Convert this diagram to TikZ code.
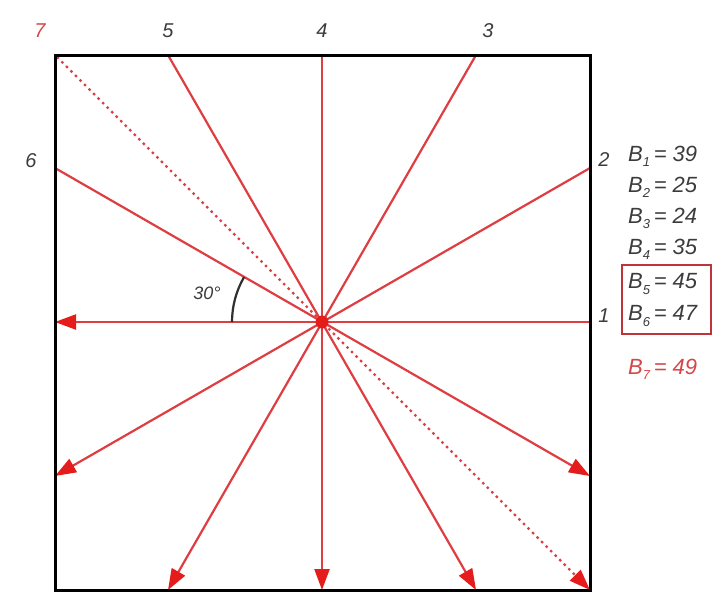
\documentclass[tikz,border=0pt]{standalone}
\usepackage{fontspec}
\setmainfont{Liberation Sans}
\usetikzlibrary{arrows.meta}
\definecolor{ray}{RGB}{222,62,66}
\definecolor{tip}{RGB}{228,28,28}
\definecolor{lbl}{RGB}{60,60,60}
\definecolor{redlbl}{RGB}{214,70,70}
\newcommand{\Bval}[2]{\textit{B}\raisebox{-0.45ex}{\fontsize{13}{14}\selectfont\itshape #1}\,\textit{= #2}}
\begin{document}
\begin{tikzpicture}[x=1pt,y=-1pt,
  raypath/.style={draw=ray,line width=2.2pt},
  arrowed/.style={raypath,-{Triangle[length=21pt,width=15pt,fill=tip,color=tip]}},
  num/.style={font=\fontsize{20}{23}\selectfont\itshape,text=lbl,inner sep=0pt},
  bl/.style={font=\fontsize{22}{25}\selectfont,text=lbl,inner sep=0pt,anchor=west}]
\useasboundingbox (0,0) rectangle (712,595);
\fill[white] (0,0) rectangle (712,595);
% corners / endpoints
\coordinate (c) at (322,322);
\coordinate (e1) at (590,322);  \coordinate (a1) at (55,322);
\coordinate (e2) at (590,168);  \coordinate (a2) at (55,476);
\coordinate (e3) at (476,55);   \coordinate (a3) at (168,590);
\coordinate (e4) at (322,55);   \coordinate (a4) at (322,590);
\coordinate (e5) at (168,55);   \coordinate (a5) at (476,590);
\coordinate (e6) at (55,168);   \coordinate (a6) at (590,476);
\coordinate (e7) at (57,57);    \coordinate (a7) at (590,590);
% rays
\draw[arrowed] (e1) -- (a1);
\draw[arrowed] (e2) -- (a2);
\draw[arrowed] (e3) -- (a3);
\draw[arrowed] (e4) -- (a4);
\draw[arrowed] (e5) -- (a5);
\draw[arrowed] (e6) -- (a6);
\draw[draw=ray,line width=2.4pt,dash pattern=on 2.4pt off 4pt,-{Triangle[length=21pt,width=15pt,fill=tip,color=tip]}] (e7) -- (a7);
% square
\node[draw=black,line width=3pt,minimum size=535pt,inner sep=0pt] (sq) at (322.5,322.5) {};
% centre dot
\node[circle,fill=tip,minimum size=13pt,inner sep=0pt] (dot) at (c) {};
% angle arc
\coordinate (arcA) at (232,322);
\coordinate (arcB) at (244.1,277);
\draw[lbl!80!black,line width=2.2pt] (arcA) .. controls (232,306.2) and (236.2,290.7) .. (arcB);
\node[font=\fontsize{18}{21}\selectfont\itshape,text=lbl] (ang) at (207,293) {30°};
% direction labels
\node[num] (n1) at (604,316) {1};
\node[num] (n2) at (604,160) {2};
\node[num] (n3) at (488,31) {3};
\node[num] (n4) at (322,31) {4};
\node[num] (n5) at (168,31) {5};
\node[num] (n6) at (31,161) {6};
\node[num,text=redlbl] (n7) at (40,31) {7};
% values
\node[bl] (b1) at (628,156) {\Bval{1}{39}};
\node[bl] (b2) at (628,187) {\Bval{2}{25}};
\node[bl] (b3) at (628,218) {\Bval{3}{24}};
\node[bl] (b4) at (628,249) {\Bval{4}{35}};
\node[bl] (b5) at (628,284) {\Bval{5}{45}};
\node[bl] (b6) at (628,316) {\Bval{6}{47}};
\node[bl,text=redlbl] (b7) at (628,369) {\Bval{7}{49}};
\draw[draw=ray!85!black,line width=2pt] (622,265) rectangle (711,334);
\end{tikzpicture}
\end{document}
